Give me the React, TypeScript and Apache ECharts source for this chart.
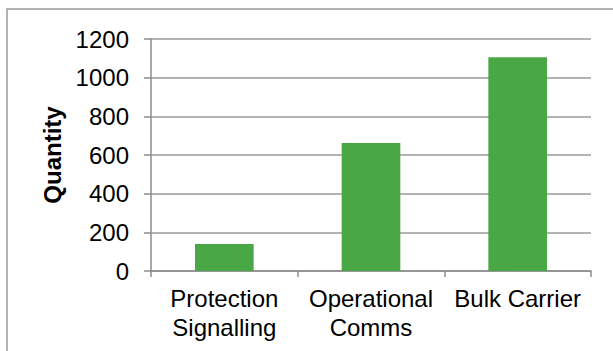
import React, { useEffect, useRef } from "react";
import * as echarts from "echarts";

const categories = ["Protection\nSignalling", "Operational\nComms", "Bulk Carrier"];
const quantities = [140, 662, 1105];
const yTicks = { min: 0, max: 1200, interval: 200 };

export default function App() {
  const ref = useRef<HTMLDivElement>(null);
  useEffect(() => {
    if (!ref.current) return;
    const chart = echarts.init(ref.current, null, { renderer: "svg" });
    const font = "'Liberation Sans', Arial, sans-serif";
    chart.setOption({
      animation: false,
      backgroundColor: "#ffffff",
      graphic: [
        {
          type: "rect",
          shape: { x: 7, y: 9, width: 640, height: 380 },
          style: { fill: "none", stroke: "#9a9a9a", lineWidth: 1.5 },
          silent: true,
        },
      ],
      grid: { left: 151, right: 22, top: 39, bottom: 80, containLabel: false },
      xAxis: {
        type: "category",
        data: categories,
        axisLine: { lineStyle: { color: "#8c8c8c", width: 1.5 } },
        axisTick: { show: true, alignWithLabel: false, length: 6, lineStyle: { color: "#8c8c8c", width: 1.5 } },
        axisLabel: { color: "#000", fontSize: 24, fontFamily: font, margin: 13, lineHeight: 29, interval: 0 },
      },
      yAxis: {
        type: "value",
        min: yTicks.min,
        max: yTicks.max,
        interval: yTicks.interval,
        name: "Quantity",
        nameLocation: "middle",
        nameGap: 84,
        nameTextStyle: { color: "#000", fontSize: 24, fontWeight: "bold", fontFamily: font },
        axisLine: { show: true, lineStyle: { color: "#8c8c8c", width: 1.5 } },
        axisTick: { show: true, length: 7, lineStyle: { color: "#8c8c8c", width: 1.5 } },
        axisLabel: { color: "#000", fontSize: 24, fontFamily: font, margin: 22, formatter: (v: number) => String(v) },
        splitLine: { lineStyle: { color: "#9a9a9a", width: 1.5 } },
      },
      series: [
        {
          type: "bar",
          data: quantities,
          barWidth: "40%",
          itemStyle: { color: "#4aa745" },
        },
      ],
    });
    return () => chart.dispose();
  }, []);
  return (
    <div
      ref={ref}
      style={{ position: "absolute", left: 0, top: 0, width: 613, height: 351 }}
    />
  );
}
